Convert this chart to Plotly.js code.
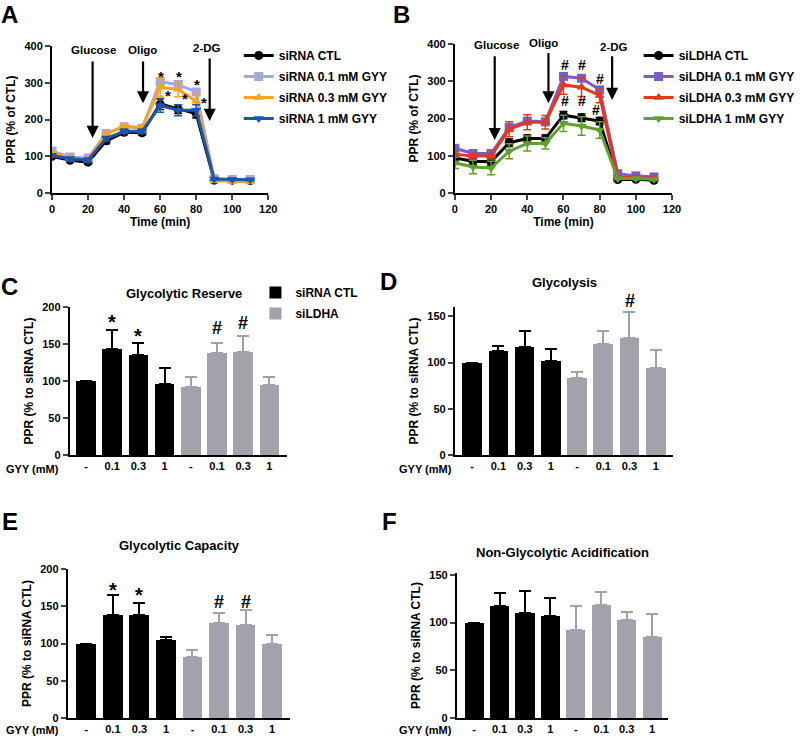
<!DOCTYPE html>
<html>
<head>
<meta charset="utf-8">
<script src="https://cdn.plot.ly/plotly-3.0.1.min.js"></script>
<style>
  html, body { margin: 0; padding: 0; background: #fff; }
  #myDiv { width: 800px; height: 738px; }
</style>
</head>
<body>
<div id="myDiv"></div>
<script>
// ---- data: time course (A, B) ----
var time = [0, 10, 20, 30, 40, 50, 60, 70, 80, 90, 100, 110];

var siRNA_ctl   = [100, 89, 84, 142, 165, 164, 242, 228, 216, 35, 35, 34];
var siRNA_01    = [114, 98, 95, 162, 180, 176, 303, 295, 275, 39, 37, 37];
var siRNA_03    = [108, 96, 92, 160, 182, 178, 288, 282, 250, 33, 32, 30];
var siRNA_1     = [102, 93, 90, 148, 168, 168, 238, 225, 225, 38, 37, 36];
var siRNA_ctl_err = [5, 5, 5, 8, 6, 6, 15, 12, 12, 5, 4, 4];
var siRNA_01_err  = [5, 5, 5, 5, 5, 5, 8, 6, 8, 3, 3, 3];
var siRNA_03_err  = [5, 5, 5, 6, 6, 6, 25, 20, 20, 3, 3, 3];
var siRNA_1_err   = [5, 5, 5, 6, 6, 6, 18, 15, 15, 3, 3, 3];

var siLDHA_ctl  = [94, 85, 84, 135, 146, 146, 209, 202, 193, 36, 37, 34];
var siLDHA_01   = [120, 106, 106, 176, 193, 191, 313, 308, 277, 52, 46, 43];
var siLDHA_03   = [104, 99, 99, 171, 190, 190, 290, 284, 262, 43, 41, 39];
var siLDHA_1    = [81, 70, 67, 112, 133, 133, 187, 180, 169, 39, 39, 37];
var siLDHA_ctl_err = [8, 10, 10, 10, 10, 10, 10, 10, 10, 3, 3, 3];
var siLDHA_01_err  = [5, 5, 5, 5, 5, 5, 8, 8, 8, 3, 3, 3];
var siLDHA_03_err  = [8, 8, 8, 20, 20, 18, 25, 25, 20, 3, 3, 3];
var siLDHA_1_err   = [15, 18, 18, 20, 20, 15, 22, 25, 22, 3, 3, 3];

// ---- data: bar panels (C-F), 4 siRNA CTL bars then 4 siLDHA bars ----
var gyyLabels = ['-', '0.1', '0.3', '1', '-', '0.1', '0.3', '1'];

var reserveCtl   = [100, 143.6, 135, 96];
var reserveCtlHi = [100, 169, 151, 117];
var reserveLd    = [92.5, 137.7, 139, 95];
var reserveLdHi  = [105, 151, 161, 105];

var glycoCtl   = [100, 112, 117, 102];
var glycoCtlHi = [100, 118, 134, 115];
var glycoLd    = [83, 120.5, 127, 94.6];
var glycoLdHi  = [90, 134, 155, 114];

var capCtl   = [100, 138, 138, 105];
var capCtlHi = [100, 165, 155, 109];
var capLd    = [82, 128, 125, 99.5];
var capLdHi  = [91, 141.5, 145.5, 111.6];

var nonCtl   = [100, 117.5, 110, 107];
var nonCtlHi = [100, 131, 133.6, 125.6];
var nonLd    = [92, 118, 102.5, 85];
var nonLdHi  = [117, 132.5, 110.6, 109];

// ---- helpers ----
var W = 800, H = 738;
function px(x) { return x / W; }
function py(y) { return 1 - y / H; }
var FONT = 'Liberation Sans, Arial, sans-serif';
var GRAY = '#a2a2aa';

function lineTrace(y, err, name, color, symbol, xa, ya, leg) {
    return {
        x: time, y: y, name: name, mode: 'lines+markers',
        xaxis: xa, yaxis: ya, legend: leg, legendgroup: name,
        line: { color: color, width: 3 },
        marker: { color: color, symbol: symbol, size: 9 },
        error_y: { type: 'data', array: err, color: color, thickness: 1.5, width: 4 }
    };
}

function barTrace(vals, hi, offset, color, name, xa, ya, leg, showleg) {
    return {
        type: 'bar',
        x: vals.map(function (v, i) { return i + offset; }),
        y: vals, name: name, xaxis: xa, yaxis: ya, legend: leg, legendgroup: name,
        showlegend: showleg, width: 0.75,
        marker: { color: color, line: { width: 0 } },
        error_y: {
            type: 'data', symmetric: false,
            array: hi.map(function (h, i) { return h - vals[i]; }),
            arrayminus: vals.map(function () { return 0; }),
            color: color, thickness: 2, width: 6
        }
    };
}

var data = [
    lineTrace(siRNA_ctl, siRNA_ctl_err, 'siRNA CTL', '#000000', 'circle', 'x', 'y', 'legend'),
    lineTrace(siRNA_01, siRNA_01_err, 'siRNA 0.1 mM GYY', '#a2a8e0', 'square', 'x', 'y', 'legend'),
    lineTrace(siRNA_03, siRNA_03_err, 'siRNA 0.3 mM GYY', '#f5a523', 'triangle-up', 'x', 'y', 'legend'),
    lineTrace(siRNA_1, siRNA_1_err, 'siRNA 1 mM GYY', '#1f55a8', 'triangle-down', 'x', 'y', 'legend'),

    lineTrace(siLDHA_ctl, siLDHA_ctl_err, 'siLDHA CTL', '#000000', 'circle', 'x2', 'y2', 'legend2'),
    lineTrace(siLDHA_01, siLDHA_01_err, 'siLDHA 0.1 mM GYY', '#7b5ec2', 'square', 'x2', 'y2', 'legend2'),
    lineTrace(siLDHA_03, siLDHA_03_err, 'siLDHA 0.3 mM GYY', '#e2391b', 'triangle-up', 'x2', 'y2', 'legend2'),
    lineTrace(siLDHA_1, siLDHA_1_err, 'siLDHA 1 mM GYY', '#5fa030', 'triangle-down', 'x2', 'y2', 'legend2'),

    barTrace(reserveCtl, reserveCtlHi, 0, '#000000', 'siRNA CTL', 'x3', 'y3', 'legend3', true),
    barTrace(reserveLd, reserveLdHi, 4, GRAY, 'siLDHA', 'x3', 'y3', 'legend3', true),
    barTrace(glycoCtl, glycoCtlHi, 0, '#000000', 'siRNA CTL', 'x4', 'y4', 'legend3', false),
    barTrace(glycoLd, glycoLdHi, 4, GRAY, 'siLDHA', 'x4', 'y4', 'legend3', false),
    barTrace(capCtl, capCtlHi, 0, '#000000', 'siRNA CTL', 'x5', 'y5', 'legend3', false),
    barTrace(capLd, capLdHi, 4, GRAY, 'siLDHA', 'x5', 'y5', 'legend3', false),
    barTrace(nonCtl, nonCtlHi, 0, '#000000', 'siRNA CTL', 'x6', 'y6', 'legend3', false),
    barTrace(nonLd, nonLdHi, 4, GRAY, 'siLDHA', 'x6', 'y6', 'legend3', false)
];

var tickFont = { family: FONT, size: 11, color: '#000', weight: 'bold' };
var titleFont = { family: FONT, size: 12, color: '#000', weight: 'bold' };

function xTime(x0, x1, anchor) {
    return {
        domain: [px(x0), px(x1)], anchor: anchor, range: [0, 120], dtick: 20,
        showline: true, linewidth: 2, linecolor: '#000', ticks: 'outside',
        ticklen: 5, tickwidth: 2, showgrid: false, zeroline: false,
        tickfont: tickFont, title: { text: 'Time (min)', font: titleFont, standoff: 2 }
    };
}
function yAxis(y0, y1, anchor, range, dtick, title) {
    return {
        domain: [py(y1), py(y0)], anchor: anchor, range: range, dtick: dtick,
        showline: true, linewidth: 2, linecolor: '#000', ticks: 'outside',
        ticklen: 5, tickwidth: 2, showgrid: false, zeroline: false,
        tickfont: tickFont, title: { text: title, font: titleFont, standoff: 6 }
    };
}
function xBar(x0, x1, anchor, range) {
    return {
        domain: [px(x0), px(x1)], anchor: anchor, range: range,
        tickvals: [0, 1, 2, 3, 4, 5, 6, 7], ticktext: gyyLabels,
        showline: true, linewidth: 2, linecolor: '#000', ticks: '',
        showgrid: false, zeroline: false, tickfont: tickFont
    };
}

var legendBase = {
    font: { family: FONT, size: 12, color: '#000', weight: 'bold' },
    bgcolor: 'rgba(0,0,0,0)', xanchor: 'left', yanchor: 'top',
    tracegroupgap: 2, itemclick: false
};

function txt(x, y, s, size) {
    return { xref: 'paper', yref: 'paper', x: px(x), y: py(y), text: s, showarrow: false,
             font: { family: FONT, size: size, color: '#000', weight: 'bold' },
             xanchor: 'center', yanchor: 'middle' };
}
function arrow(xa, ya, x, yTip, yTail) {
    return { xref: xa, yref: ya, axref: xa, ayref: ya, x: x, y: yTip, ax: x, ay: yTail,
             text: '', showarrow: true, arrowhead: 2, arrowsize: 1.1, arrowwidth: 2.2,
             arrowcolor: '#000' };
}
function mark(xa, ya, x, y, s, size) {
    return { xref: xa, yref: ya, x: x, y: y, text: s, showarrow: false,
             font: { family: FONT, size: size, color: '#000', weight: 'bold' } };
}

var annotations = [
    // panel letters
    txt(10, 15, 'A', 24), txt(409, 15, 'B', 24), txt(10, 287, 'C', 24),
    txt(395, 281, 'D', 24), txt(10, 521, 'E', 24), txt(396, 521, 'F', 24),
    // bar panel titles
    txt(187, 293, 'Glycolytic Reserve', 13), txt(575, 283, 'Glycolysis', 13),
    txt(183, 545, 'Glycolytic Capacity', 13), txt(573, 552, 'Non-Glycolytic Acidification', 13),
    // GYY (mM) row labels
    txt(33, 469, 'GYY (mM)', 11), txt(433, 469, 'GYY (mM)', 11),
    txt(33, 730, 'GYY (mM)', 11), txt(433, 730, 'GYY (mM)', 11),
    // arrows + treatment labels A
    arrow('x', 'y', 22.5, 150, 362), txt(95, 50, 'Glucose', 11.5),
    arrow('x', 'y', 50.5, 244, 362), txt(145, 50, 'Oligo', 11.5),
    arrow('x', 'y', 87.5, 196, 370), txt(211, 48, '2-DG', 11.5),
    // arrows + treatment labels B
    arrow('x2', 'y2', 22, 142, 371), txt(505, 45, 'Glucose', 11.5),
    arrow('x2', 'y2', 51.7, 241, 380), txt(553, 43, 'Oligo', 11.5),
    arrow('x2', 'y2', 86.9, 250, 371), txt(625, 47, '2-DG', 11.5),
    // significance A
    mark('x', 'y', 60.5, 318, '*', 15), mark('x', 'y', 70.4, 318, '*', 15), mark('x', 'y', 80.7, 294, '*', 15),
    mark('x', 'y', 64.4, 265, '*', 15), mark('x', 'y', 73.6, 257, '*', 15), mark('x', 'y', 84.5, 246, '*', 15),
    // significance B
    mark('x2', 'y2', 60.8, 344, '#', 14), mark('x2', 'y2', 70, 344, '#', 14), mark('x2', 'y2', 80.4, 306, '#', 14),
    mark('x2', 'y2', 60.8, 247, '#', 14), mark('x2', 'y2', 70, 247, '#', 14), mark('x2', 'y2', 78.2, 223, '#', 14),
    // significance C
    mark('x3', 'y3', 1, 180, '*', 20), mark('x3', 'y3', 2, 161, '*', 20),
    mark('x3', 'y3', 5, 172, '#', 18), mark('x3', 'y3', 6, 178, '#', 18),
    // significance D (sits above the axis top)
    txt(641, 301, '#', 18),
    // significance E
    mark('x5', 'y5', 1, 172, '*', 20), mark('x5', 'y5', 2, 165, '*', 20),
    mark('x5', 'y5', 5, 156, '#', 18), mark('x5', 'y5', 6, 156, '#', 18)
];

var layout = {
    width: W, height: H,
    margin: { l: 0, r: 0, t: 0, b: 0 },
    paper_bgcolor: '#fff', plot_bgcolor: '#fff',
    font: { family: FONT, color: '#000' },
    bargap: 0,
    xaxis: xTime(53, 273, 'y'),
    yaxis: yAxis(46, 193, 'x', [0, 400], 100, 'PPR (% of CTL)'),
    xaxis2: xTime(463, 684, 'y2'),
    yaxis2: yAxis(44, 193, 'x2', [0, 400], 100, 'PPR (% of CTL)'),
    xaxis3: xBar(71, 292, 'y3', [-0.62, 7.67]),
    yaxis3: yAxis(307, 455, 'x3', [0, 200], 50, 'PPR (% to siRNA CTL)'),
    xaxis4: xBar(463, 685, 'y4', [-0.66, 7.66]),
    yaxis4: yAxis(307, 455, 'x4', [0, 160], 50, 'PPR (% to siRNA CTL)'),
    xaxis5: xBar(69, 295, 'y5', [-0.7, 7.67]),
    yaxis5: yAxis(569, 718, 'x5', [0, 200], 50, 'PPR (% to siRNA CTL)'),
    xaxis6: xBar(465, 680, 'y6', [-0.68, 7.63]),
    yaxis6: yAxis(573, 718, 'x6', [0, 152], 50, 'PPR (% to siRNA CTL)'),
    legend: Object.assign({ x: px(243), y: py(41) }, legendBase),
    legend2: Object.assign({ x: px(650), y: py(41) }, legendBase),
    legend3: Object.assign({ x: px(260), y: py(278) }, legendBase),
    annotations: annotations
};

Plotly.newPlot('myDiv', data, layout, { staticPlot: true });
</script>
</body>
</html>
